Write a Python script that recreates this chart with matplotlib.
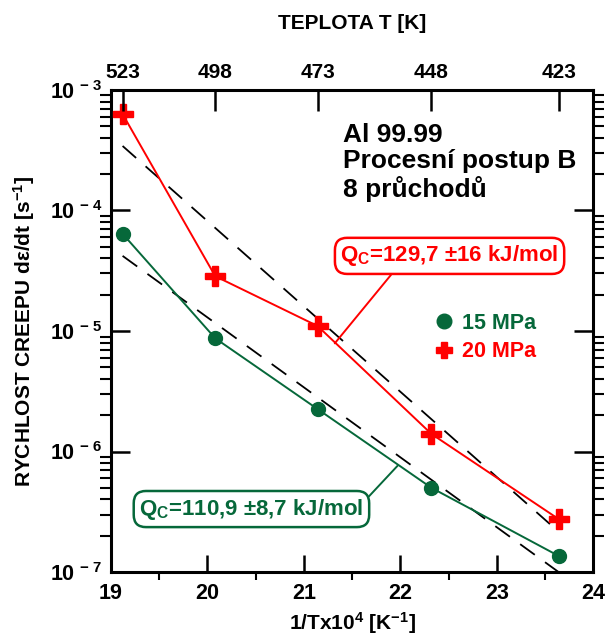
import numpy as np
import matplotlib
matplotlib.use("Agg")
import matplotlib.pyplot as plt
from matplotlib.lines import Line2D

plt.rcParams['font.family'] = ['Liberation Sans', 'DejaVu Sans']
plt.rcParams['font.weight'] = 'bold'
plt.rcParams['mathtext.fontset'] = 'custom'
plt.rcParams['mathtext.rm'] = 'Liberation Sans:bold'
plt.rcParams['mathtext.bf'] = 'Liberation Sans:bold'
plt.rcParams['mathtext.it'] = 'Liberation Sans:bold'
plt.rcParams['mathtext.default'] = 'bf'

# ---- data ----
temperatures = [523, 498, 473, 448, 423]            # K
rate_15MPa = [6.4e-5, 8.7e-6, 2.25e-6, 5.0e-7, 1.36e-7]
rate_20MPa = [6.3e-4, 2.85e-5, 1.1e-5, 1.4e-6, 2.75e-7]
fit_x = [19.12, 23.64]
fit_15MPa = [4.2e-5, 1.0e-7]
fit_20MPa = [3.43e-4, 2.16e-7]
x_ticks = [19, 20, 21, 22, 23, 24]
y_ticks = [1e-7, 1e-6, 1e-5, 1e-4, 1e-3]
y_tick_labels = [r'10$^{\,-\,7}$', r'10$^{\,-\,6}$', r'10$^{\,-\,5}$', r'10$^{\,-\,4}$', r'10$^{\,-\,3}$']

invT = [1e4 / t for t in temperatures]

GREEN = '#06683a'
RED = '#ff0000'

fig = plt.figure(figsize=(6.06, 6.35), dpi=100)
ax = fig.add_axes([0.1832, 0.0992, 0.7958, 0.7591])

ax.set_yscale('log')
ax.set_xlim(19, 24)
ax.set_ylim(1e-7, 1e-3)

dash = (0, (10, 7))
ax.plot(fit_x, fit_20MPa, color='black', lw=1.3, linestyle=dash, zorder=2)
ax.plot(fit_x, fit_15MPa, color='black', lw=1.3, linestyle=dash, zorder=2)

ax.plot(invT, rate_20MPa, color=RED, lw=1.4, marker='P', ms=15, mec=RED, mfc=RED, zorder=3)
ax.plot(invT, rate_15MPa, color=GREEN, lw=1.4, marker='o', ms=10, mec=GREEN, mfc=GREEN, zorder=3)

# ticks
ax.set_xticks(x_ticks)
ax.set_xticklabels([str(v) for v in x_ticks])
ax.set_xticks(np.arange(19.5, 24, 1.0), minor=True)
ax.set_yticks(y_ticks)
ax.set_yticklabels(y_tick_labels)
ax.tick_params(axis='both', which='major', direction='in', labelsize=15.5, width=1.8)
ax.tick_params(axis='x', which='major', length=12, pad=8, top=False)
ax.tick_params(axis='x', which='minor', length=6, width=1.5, top=False)
ax.tick_params(axis='y', which='major', length=14, right=True, pad=6)
ax.tick_params(axis='y', which='minor', length=8, width=1.5, right=True)
for s in ax.spines.values():
    s.set_linewidth(2.2)

ax.set_xlabel(r'1/Tx10$^{4}$ [K$^{-1}$]', fontsize=15, fontweight='bold', labelpad=4)
ax.set_ylabel(r'RYCHLOST CREEPU d$\varepsilon$/dt [s$^{-1}$]', fontsize=15, fontweight='bold', labelpad=9)

# top axis
ax2 = ax.twiny()
ax2.set_xlim(ax.get_xlim())
ax2.set_xticks(invT)
ax2.set_xticklabels([str(t) for t in temperatures])
ax2.tick_params(axis='x', direction='in', length=15, width=1.8, labelsize=15, pad=6)
ax2.set_xlabel('TEPLOTA T [K]', fontsize=15, fontweight='bold', labelpad=24)

# sample text
ax.text(0.48, 0.932, 'Al 99.99\nProcesní postup B\n8 průchodů', transform=ax.transAxes,
        fontsize=19, fontweight='bold', ha='left', va='top', linespacing=1.13)

# annotations
ax.annotate(r'Q$_{C}$=129,7 ±16 kJ/mol', xy=(21.32, 7.9e-6), xytext=(22.51, 4.2e-5),
            color=RED, fontsize=16, ha='center', va='center',
            bbox=dict(boxstyle='round,pad=0.25,rounding_size=0.55', fc='white', ec=RED, lw=1.8),
            arrowprops=dict(arrowstyle='-', color=RED, lw=1.4, shrinkA=0, shrinkB=0,
                            relpos=(0.256, 0.0)), zorder=5)
ax.annotate(r'Q$_{C}$=110,9 ±8,7 kJ/mol', xy=(21.97, 7.6e-7), xytext=(20.456, 3.33e-7),
            color=GREEN, fontsize=16, ha='center', va='center',
            bbox=dict(boxstyle='round,pad=0.25,rounding_size=0.55', fc='white', ec=GREEN, lw=1.8),
            arrowprops=dict(arrowstyle='-', color=GREEN, lw=1.4, shrinkA=0, shrinkB=0,
                            relpos=(1.0, 0.78)), zorder=5)

# legend
handles = [Line2D([], [], ls='none', marker='o', ms=10.5, color=GREEN),
           Line2D([], [], ls='none', marker='P', ms=11.5, color=RED)]
leg = ax.legend(handles, ['15 MPa', '20 MPa'], loc='upper left', bbox_to_anchor=(0.632, 0.578),
                frameon=False, handlelength=0.8, handletextpad=0.45, labelspacing=0.35,
                prop={'size': 15.5, 'weight': 'bold'}, labelcolor=[GREEN, RED])

fig.savefig('out.png', dpi=100)
